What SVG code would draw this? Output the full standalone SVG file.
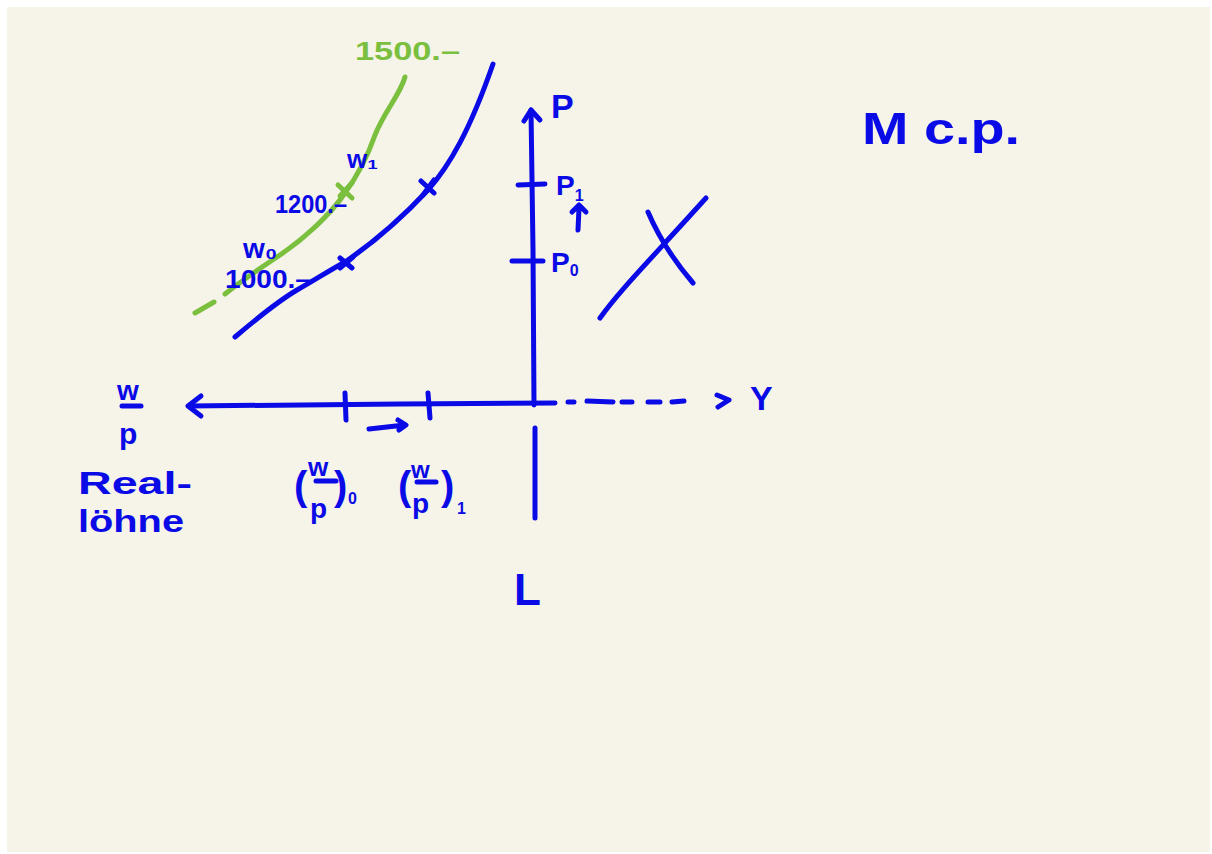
<svg xmlns="http://www.w3.org/2000/svg" width="1212" height="854" viewBox="0 0 1212 854">
<style>
.s{fill:none;stroke:#0a0ae6;stroke-width:5;stroke-linecap:round;stroke-linejoin:round}
.g{fill:none;stroke:#7bbf3e;stroke-width:5;stroke-linecap:round;stroke-linejoin:round}
.t{font-family:"Liberation Sans",Arial,sans-serif;font-weight:bold;fill:#0a0ae6}
.tg{font-family:"Liberation Sans",Arial,sans-serif;font-weight:bold;fill:#7bbf3e}
</style>
<rect width="1212" height="854" fill="#ffffff"/>
<rect x="7" y="7" width="1203" height="845" fill="#f6f3e8"/>
<g id="axes">
<path class="s" d="M531 110 L533 250 L534 405"/>
<path class="s" d="M524 121 L531 110 L540 120"/>
<path class="s" d="M535 428 L535 518"/>
<path class="s" d="M555 403 L400 404 L190 406"/>
<path class="s" d="M201 396 L188 406 L201 416"/>
<path class="s" d="M568 402 L574 402 M587 401 L613 402 M622 402 L632 402 M648 402 L660 402 M672 402 L684 401"/>
<path class="s" d="M717 395 L729 400 L718 407"/>
<path class="s" d="M518 185 L545 184 M512 261 L543 261"/>
<path class="s" d="M345 393 L346 420 M428 393 L430 418"/>
<path class="s" d="M369 429 L405 425 M398 420 L406 425 L399 430"/>
<path class="s" d="M578 230 L579 208 M572 212 L579 205 L586 212"/>
</g>
<g id="curves">
<path class="s" d="M235 337 C255 320 280 300 297 290 C315 280 330 270 345 262 C370 245 400 220 428 190 C450 165 470 130 493 64"/>
<path class="s" d="M340 258 L352 268 M340 268 L353 257 M421 181 L434 193 M423 195 L434 180"/>
<path class="g" d="M195 313 L214 302"/>
<path class="g" d="M225 294 C245 278 265 265 280 255 C305 238 330 215 345 193 C358 175 368 155 375 135 C385 110 400 95 405 77"/>
<path class="g" d="M338 185 L352 198 M340 196 L352 183"/>
<path class="s" d="M600 318 C620 290 650 260 706 198"/>
<path class="s" d="M648 212 C660 240 675 262 693 283"/>
</g>
<g id="labels">
<text class="tg" x="355" y="60" font-size="26" textLength="105" lengthAdjust="spacingAndGlyphs">1500.–</text>
<text class="t" x="347" y="168" font-size="26">w₁</text>
<text class="t" x="275" y="213" font-size="26" textLength="72" lengthAdjust="spacingAndGlyphs">1200.–</text>
<text class="t" x="243" y="258" font-size="28">w₀</text>
<text class="t" x="225" y="288" font-size="26" textLength="86" lengthAdjust="spacingAndGlyphs">1000.–</text>
<text class="t" x="551" y="118" font-size="34">P</text>
<text class="t" x="556" y="195" font-size="28">P<tspan font-size="16" dy="6">1</tspan></text>
<text class="t" x="551" y="272" font-size="28">P<tspan font-size="16" dy="4">0</tspan></text>
<text class="t" x="750" y="410" font-size="34">Y</text>
<text class="t" x="514" y="605" font-size="44">L</text>
<text class="t" x="117" y="400" font-size="28">w</text>
<path class="s" d="M122 406 L141 406"/>
<text class="t" x="119" y="444" font-size="30">p</text>
<text class="t" x="78" y="494" font-size="32" textLength="114" lengthAdjust="spacingAndGlyphs">Real-</text>
<text class="t" x="78" y="532" font-size="32" textLength="106" lengthAdjust="spacingAndGlyphs">löhne</text>
<text class="t" x="294" y="500" font-size="40" font-weight="normal">(</text>
<text class="t" x="308" y="476" font-size="26">w</text>
<path class="s" d="M316 481 L336 481"/>
<text class="t" x="310" y="518" font-size="28">p</text>
<text class="t" x="334" y="500" font-size="40" font-weight="normal">)</text>
<text class="t" x="348" y="504" font-size="16">0</text>
<text class="t" x="398" y="500" font-size="40" font-weight="normal">(</text>
<text class="t" x="411" y="478" font-size="24">w</text>
<path class="s" d="M417 482 L436 482"/>
<text class="t" x="412" y="513" font-size="28">p</text>
<text class="t" x="441" y="500" font-size="40" font-weight="normal">)</text>
<text class="t" x="457" y="514" font-size="16">1</text>
<text class="t" x="862" y="144" font-size="44" textLength="158" lengthAdjust="spacingAndGlyphs">M c.p.</text>
</g>
</svg>
